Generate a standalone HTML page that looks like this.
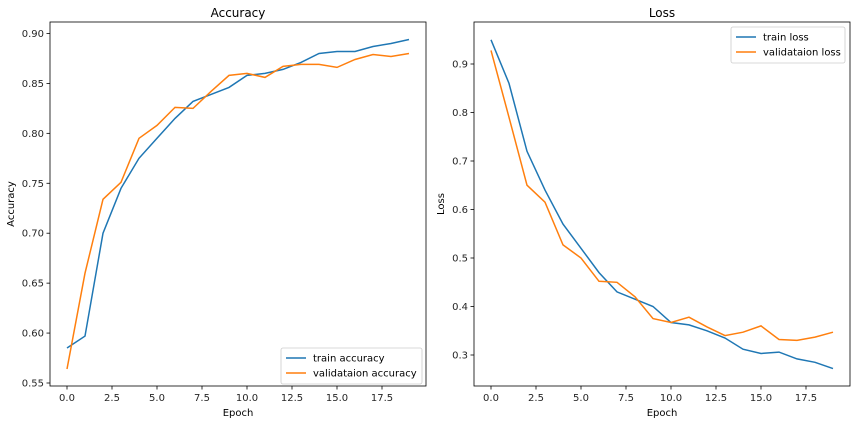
<!DOCTYPE html>
<html><head><meta charset="utf-8"><style>
body{margin:0;background:#fff;}
svg{display:block;font-family:"DejaVu Sans","Liberation Sans",sans-serif;}
</style></head><body>
<svg width="856" height="424" xmlns="http://www.w3.org/2000/svg">
<rect width="856" height="424" fill="#fff"/>
<g id="L"></g><g id="R"></g>
<script>
<![CDATA[
const NS="http://www.w3.org/2000/svg";
function el(p,t,a,txt){const e=document.createElementNS(NS,t);for(const k in a)e.setAttribute(k,a[k]);if(txt!==undefined)e.textContent=txt;p.appendChild(e);return e;}
function plot(g,o){
 const X=v=>o.x0+v*18.0, Y=v=>o.y0-(v-o.yb)*o.ys;
 // ticks
 for(let v=0;v<=17.5;v+=2.5){const x=X(v);el(g,'line',{x1:x,x2:x,y1:386,y2:389.5,stroke:'#000','stroke-width':0.8});el(g,'text',{x:x,y:401,'font-size':10,'text-anchor':'middle',fill:'#262626'},v.toFixed(1));}
 o.yt.forEach(v=>{const y=Y(v);el(g,'line',{x1:o.l-3.5,x2:o.l,y1:y,y2:y,stroke:'#000','stroke-width':0.8});el(g,'text',{x:o.l-6,y:y+3.5,'font-size':10,'text-anchor':'end',fill:'#262626'},v.toFixed(o.dec));});
 const pts=d=>d.map((v,i)=>X(i).toFixed(1)+','+Y(v).toFixed(1)).join(' ');
 el(g,'polyline',{points:pts(o.a),fill:'none',stroke:'#1f77b4','stroke-width':1.5});
 el(g,'polyline',{points:pts(o.b),fill:'none',stroke:'#ff7f0e','stroke-width':1.5});
 el(g,'rect',{x:o.l,y:22,width:376,height:364,fill:'none',stroke:'#000','stroke-width':0.8});
 el(g,'text',{x:o.l+188,y:17,'font-size':12,'text-anchor':'middle'},o.title);
 el(g,'text',{x:o.l+188,y:416,'font-size':10,'text-anchor':'middle'},'Epoch');
 el(g,'text',{x:0,y:0,'font-size':10,'text-anchor':'middle',transform:`translate(${o.yl},204) rotate(-90)`},o.ylab);
 const L=o.leg;
 el(g,'rect',{x:L.x,y:L.y,width:L.w,height:36,rx:2,fill:'#fff','fill-opacity':0.8,stroke:'#ccc','stroke-width':0.8});
 el(g,'line',{x1:L.x+5,x2:L.x+25,y1:L.y+10,y2:L.y+10,stroke:'#1f77b4','stroke-width':1.5});
 el(g,'line',{x1:L.x+5,x2:L.x+25,y1:L.y+25,y2:L.y+25,stroke:'#ff7f0e','stroke-width':1.5});
 el(g,'text',{x:L.x+32,y:L.y+13.5,'font-size':10},L.t[0]);
 el(g,'text',{x:L.x+32,y:L.y+28.5,'font-size':10},L.t[1]);
}
plot(document.getElementById('L'),{l:50,x0:67,y0:383,yb:0.55,ys:998.6,dec:2,
 yt:[0.55,0.60,0.65,0.70,0.75,0.80,0.85,0.90],title:'Accuracy',ylab:'Accuracy',yl:14,
 a:[0.585,0.597,0.70,0.745,0.775,0.795,0.815,0.832,0.839,0.846,0.858,0.860,0.864,0.871,0.880,0.882,0.882,0.887,0.890,0.894],
 b:[0.564,0.66,0.734,0.751,0.795,0.808,0.826,0.825,0.842,0.858,0.860,0.856,0.867,0.869,0.869,0.866,0.874,0.879,0.877,0.880],
 leg:{x:281,y:348,w:141,t:['train accuracy','validataion accuracy']}});
plot(document.getElementById('R'),{l:474,x0:491,y0:355,yb:0.3,ys:485,dec:1,
 yt:[0.3,0.4,0.5,0.6,0.7,0.8,0.9],title:'Loss',ylab:'Loss',yl:444,
 a:[0.95,0.86,0.72,0.64,0.57,0.52,0.47,0.43,0.415,0.40,0.367,0.362,0.35,0.335,0.312,0.303,0.306,0.292,0.285,0.272],
 b:[0.928,0.79,0.65,0.615,0.527,0.50,0.452,0.45,0.42,0.375,0.367,0.378,0.358,0.34,0.347,0.36,0.332,0.33,0.337,0.347],
 leg:{x:731,y:27,w:114,t:['train loss','validataion loss']}});
]]>
</script>
</svg>
</body></html>
